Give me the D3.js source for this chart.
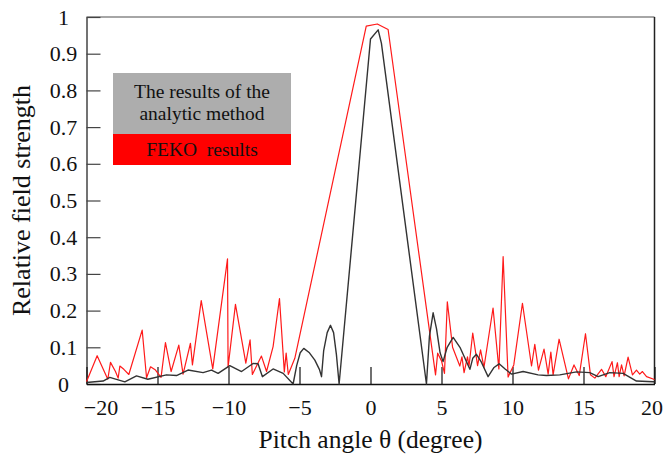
<!DOCTYPE html>
<html>
<head>
<meta charset="utf-8">
<script src="https://cdn.jsdelivr.net/npm/d3@7"></script>
<style>
	body { margin: 0; background: #fff; }
	text { font-family: "Liberation Serif", "Times New Roman", serif; fill: #111; }
</style>
</head>
<body>
<div id="chart"></div>
<script>
// analytic method (black)
var analyticAngle = [-20, -18.83, -18.36, -17.3, -16.48, -15.68, -14.37, -13.66, -12.85, -11.79, -11.2, -10.73, -9.91, -9.08, -8.27, -7.92, -7.61, -6.86, -6.15, -5.45,
	-5.2, -4.95, -4.7, -4.3, -3.92, -3.6, -3.45, -3.3, -3.05, -2.82, -2.6, -2.4, -2.21,
	0, 0.54, 0.77, 3.94,
	4.15, 4.41, 4.65, 4.9, 5.11, 5.4, 5.82, 6.3, 7.0, 7.2, 7.46, 7.8, 8.28, 8.7, 9.06, 9.5, 9.93,
	10.75, 11.8, 12.39, 13.33, 14.51, 15.44, 16.03, 16.85, 17.79, 18.73, 19.9, 20];
var analyticValue = [0.004, 0.008, 0.018, 0.006, 0.022, 0.013, 0.025, 0.023, 0.038, 0.031, 0.038, 0.029, 0.05, 0.034, 0.056, 0.055, 0.02, 0.041, 0.029, 0,
	0.05, 0.085, 0.097, 0.085, 0.065, 0.04, 0.02, 0.09, 0.14, 0.16, 0.14, 0.08, 0,
	0.94, 0.965, 0.928, 0,
	0.13, 0.194, 0.15, 0.085, 0.061, 0.1, 0.127, 0.1, 0.04, 0.07, 0.081, 0.06, 0.02, 0.045, 0.055, 0.04, 0.027,
	0.034, 0.025, 0.023, 0.025, 0.033, 0.031, 0.02, 0.031, 0.029, 0.008, 0.006, 0.006];

// FEKO (red)
var fekoAngle = [-20, -19.25, -18.5, -18.31, -17.96, -17.77, -17.65, -17.37, -17.02, -16.08, -15.77, -15.49, -15.14, -14.75, -14.44, -14.04, -13.5, -13.2, -12.68, -12.54,
	-11.92, -11.11, -10.07, -10.03, -9.51, -8.78, -8.48, -8.32, -7.68, -7.32, -6.86, -6.41, -6.07, -5.94, -5.79, -5.33,
	-0.3, 0.48, 1.24,
	4.58, 4.73, 5.0, 5.21, 5.41, 5.78, 6.29, 6.44, 6.59, 6.83, 6.94, 7.2, 7.54, 7.75, 7.99, 8.63, 9.04, 9.34, 9.69,
	10.09, 10.7, 11.34, 11.57, 11.83, 12.22, 12.51, 12.7, 12.86, 13.28, 13.94, 14.33, 14.7, 15.14, 15.49, 15.8,
	16.27, 16.57, 17.01, 17.15, 17.39, 17.51, 17.68, 17.86, 18.14, 18.45, 18.73, 18.96, 19.15, 19.44, 19.95, 20];
var fekoValue = [0.006, 0.077, 0.013, 0.059, 0.034, 0.016, 0.049, 0.04, 0.026, 0.147, 0.017, 0.047, 0.038, 0.018, 0.113, 0.034, 0.106, 0.027, 0.111, 0.052,
	0.227, 0.041, 0.341, 0.046, 0.217, 0.057, 0.12, 0.026, 0.076, 0.034, 0.102, 0.233, 0.033, 0.084, 0.026, 0.07,
	0.975, 0.981, 0.966,
	0.025, 0.084, 0.063, 0.029, 0.224, 0.1, 0.049, 0.074, 0.031, 0.074, 0.049, 0.139, 0.05, 0.093, 0.045, 0.207, 0.041, 0.347, 0.019,
	0.052, 0.22, 0.049, 0.108, 0.038, 0.095, 0.027, 0.087, 0.025, 0.122, 0.014, 0.052, 0.023, 0.137, 0.025, 0.016,
	0.04, 0.02, 0.061, 0.02, 0.058, 0.02, 0.052, 0.022, 0.073, 0.025, 0.038, 0.027, 0.034, 0.02, 0.013, 0.012];

var xTicks = [-20, -15, -10, -5, 0, 5, 10, 15, 20];
var yTicks = [0, 0.1, 0.2, 0.3, 0.4, 0.5, 0.6, 0.7, 0.8, 0.9, 1];
var legendLines = [["The results of the", "analytic method"], ["FEKO  results"]];
var legendColors = ["#adadad", "#ff0000"];

(function () {

	"use strict";

	var W = 663, H = 458;
	var left = 86.5, right = 654.5, top = 17, bottom = 384;

	var svg = d3.select("#chart").append("svg")
		.attr("width", W).attr("height", H);

	var x = d3.scaleLinear().domain([-20, 20]).range([left, right]);
	var y = d3.scaleLinear().domain([0, 1]).range([bottom, top]);

	//frame: top gray, right dark
	svg.append("line").attr("x1", left).attr("x2", right).attr("y1", top).attr("y2", top)
		.attr("stroke", "#888").attr("stroke-width", 1.5);
	svg.append("line").attr("x1", right).attr("x2", right).attr("y1", top).attr("y2", bottom)
		.attr("stroke", "#222").attr("stroke-width", 1.5);

	//y axis, ticks pointing inward
	var yAxis = svg.append("g")
		.attr("transform", "translate(" + left + ",0)")
		.call(d3.axisLeft(y).tickValues(yTicks).tickSizeInner(-14).tickSizeOuter(0)
			.tickFormat(function (d) { return d === 0 ? "0" : d === 1 ? "1" : d3.format(".1f")(d); }));
	yAxis.select(".domain").attr("stroke", "#444").attr("stroke-width", 1.5);
	yAxis.selectAll(".tick line").attr("stroke", "#444").attr("stroke-width", 1.2);
	yAxis.selectAll(".tick text")
		.attr("x", -23).attr("text-anchor", "middle")
		.style("font-size", "22px").attr("fill", "#111");

	//x axis, ticks pointing inward
	var xAxis = svg.append("g")
		.attr("transform", "translate(0," + bottom + ")")
		.call(d3.axisBottom(x).tickValues(xTicks).tickSizeInner(-17).tickSizeOuter(0).tickPadding(15)
			.tickFormat(d3.format("d")));
	xAxis.select(".domain").attr("stroke", "#111").attr("stroke-width", 1.5);
	xAxis.selectAll(".tick line").attr("stroke", "#111").attr("stroke-width", 1.2);
	xAxis.selectAll(".tick text")
		.style("font-size", "22px").attr("fill", "#111")
		.attr("dx", function (d) { return d === -20 ? 14 : d === 20 ? -3 : 0; });

	//axis titles
	svg.append("text")
		.attr("x", (left + right) / 2).attr("y", 448)
		.attr("text-anchor", "middle")
		.style("font-size", "25.5px")
		.text("Pitch angle \u03b8 (degree)");

	svg.append("text")
		.attr("transform", "translate(30," + (top + bottom) / 2 + ") rotate(-90)")
		.attr("text-anchor", "middle")
		.style("font-size", "26px")
		.text("Relative field strength");

	//curves
	var line = d3.line()
		.x(function (d) { return x(d[0]); })
		.y(function (d) { return y(d[1]); });

	var fekoData = d3.zip(fekoAngle, fekoValue);
	var analyticData = d3.zip(analyticAngle, analyticValue);

	svg.append("path")
		.datum(fekoData)
		.attr("d", line)
		.attr("fill", "none")
		.attr("stroke", "#ff1a1a")
		.attr("stroke-width", 1.2)
		.attr("stroke-linejoin", "round");

	svg.append("path")
		.datum(analyticData)
		.attr("d", line)
		.attr("fill", "none")
		.attr("stroke", "#333")
		.attr("stroke-width", 1.4)
		.attr("stroke-linejoin", "round");

	//legend
	var lg = svg.append("g");
	lg.append("rect").attr("x", 113).attr("y", 73).attr("width", 178).attr("height", 61)
		.attr("fill", legendColors[0]);
	lg.append("rect").attr("x", 113).attr("y", 134).attr("width", 178).attr("height", 31)
		.attr("fill", legendColors[1]);

	lg.selectAll("text.l0")
		.data(legendLines[0])
		.enter().append("text")
		.attr("class", "l0")
		.attr("x", 202).attr("y", function (d, i) { return 98 + i * 22; })
		.attr("text-anchor", "middle")
		.style("font-size", "19.5px")
		.text(function (d) { return d; });

	lg.append("text")
		.attr("x", 202).attr("y", 156)
		.attr("text-anchor", "middle")
		.style("font-size", "19.5px")
		.style("white-space", "pre")
		.text(legendLines[1][0]);

}).call(this);
</script>
</body>
</html>
